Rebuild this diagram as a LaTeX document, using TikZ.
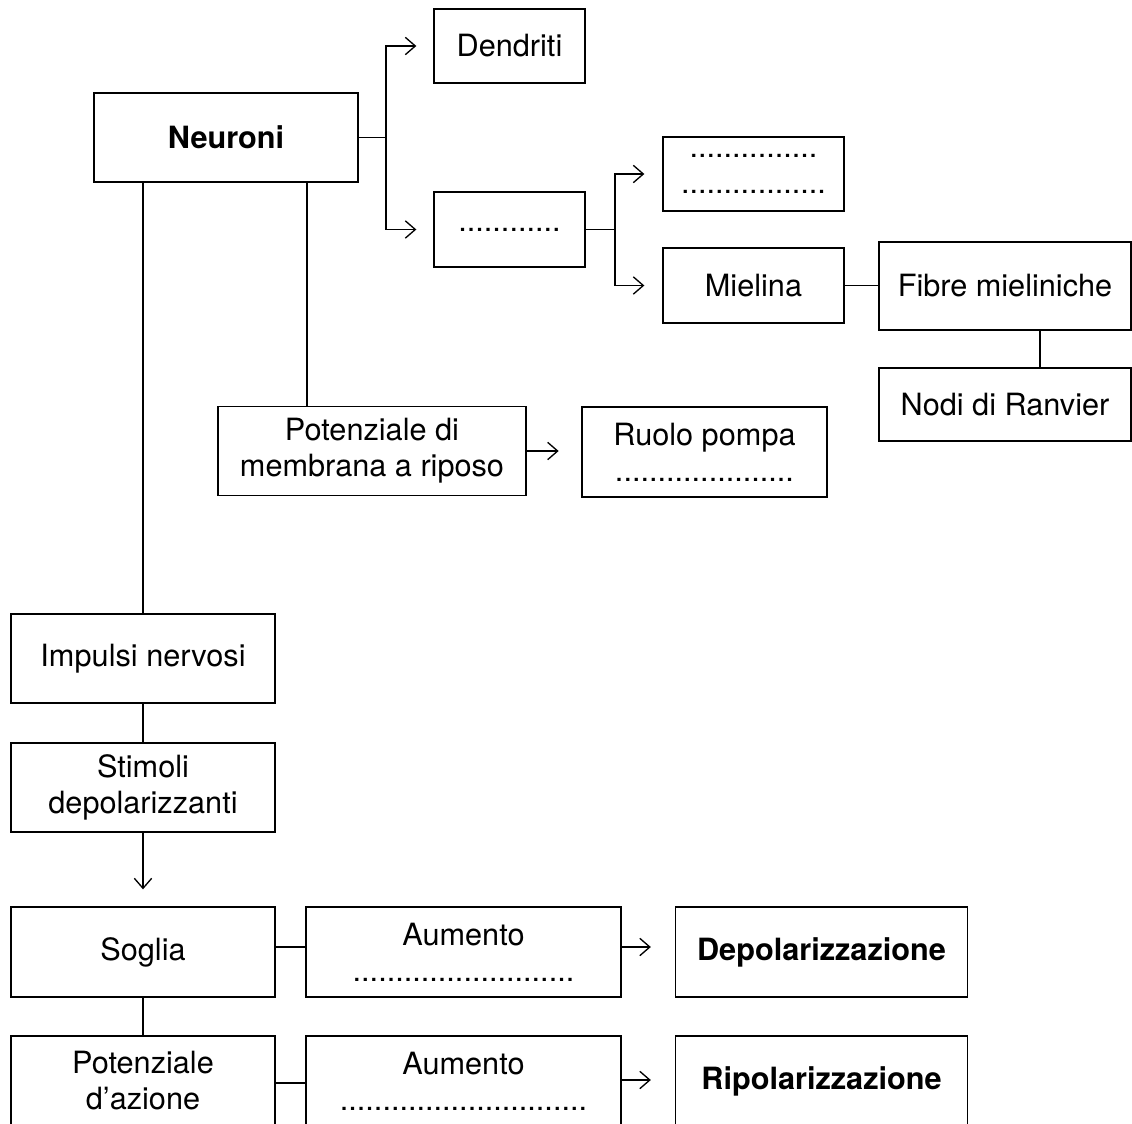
\documentclass[tikz,border=0pt]{standalone}
\usepackage{fontspec}
\setmainfont{TeX Gyre Heros}
\usetikzlibrary{arrows.meta,calc}
\begin{document}
\begin{tikzpicture}[x=0.75pt,y=-0.75pt,
  box/.style={draw, line width=1pt, align=center, inner sep=0pt,
    font=\fontsize{23}{27}\selectfont},
  conn/.style={line width=1pt},
  arr/.style={line width=1pt, -{Straight Barb[length=7.5pt,width=13pt,line width=1pt]}}]
\useasboundingbox (0,0) rectangle (1132,1124);

\node[box, minimum width=198pt, minimum height=66.75pt] (neu) at (226,137.5) {\bfseries Neuroni};
\node[box, minimum width=113.25pt, minimum height=55.5pt] (den) at (509.5,46) {Dendriti};
\node[box, minimum width=113.25pt, minimum height=56.25pt] (ax) at (509.5,229.5) {............};
\node[box, minimum width=135.75pt, minimum height=55.5pt] (tw) at (753.5,174) {...............\\.................};
\node[box, minimum width=135.75pt, minimum height=56.25pt] (miel) at (753.5,285.5) {Mielina};
\node[box, minimum width=189pt, minimum height=66pt] (fib) at (1005,286) {Fibre mieliniche};
\node[box, minimum width=189pt, minimum height=54.75pt] (nodi) at (1005,404.5) {Nodi di Ranvier};
\node[box, minimum width=231pt, minimum height=66.75pt] (pot) at (372,451) {Potenziale di\\membrana a riposo};
\node[box, minimum width=183.75pt, minimum height=67.5pt] (rp) at (704.5,452) {Ruolo pompa\\.....................};
\node[box, minimum width=198pt, minimum height=66.75pt] (imp) at (143,658.5) {Impulsi nervosi};
\node[box, minimum width=198pt, minimum height=66.75pt] (stim) at (143,787.5) {Stimoli\\depolarizzanti};
\node[box, minimum width=198pt, minimum height=67.5pt] (sog) at (143,952) {Soglia};
\node[box, minimum width=236.25pt, minimum height=67.5pt] (aum1) at (463.5,952) {Aumento\\..........................};
\node[box, minimum width=219pt, minimum height=67.5pt] (dep) at (821.5,952) {\bfseries Depolarizzazione};
\node[box, minimum width=198pt, minimum height=67.5pt] (potaz) at (143,1081) {Potenziale\\d’azione};
\node[box, minimum width=236.25pt, minimum height=67.5pt] (aum2) at (463.5,1081) {Aumento\\.............................};
\node[box, minimum width=219pt, minimum height=67.5pt] (rip) at (821.5,1081) {\bfseries Ripolarizzazione};

% Neuroni branches
\coordinate (j1) at (386,137.5);
\draw[conn] (neu.east) -- (j1 |- neu.east);
\draw[arr, shorten >=12.75pt] (j1) |- (den.west);
\draw[arr, shorten >=12.75pt] (j1) |- (ax.west);

\coordinate (j2) at (615,229.5);
\draw[conn] (ax.east) -- (j2);
\draw[arr, shorten >=13.5pt] (j2) |- (tw.west);
\draw[arr, shorten >=13.5pt] (j2) |- (miel.west);

\draw[conn] (miel.east) -- (fib.west |- miel.east);
\coordinate (c1) at (1040,0);
\draw[conn] (fib.south -| c1) -- (nodi.north -| c1);

\draw[conn] (neu.south -| imp.north) -- (imp.north);
\coordinate (c2) at (307,0);
\draw[conn] (neu.south -| c2) -- (pot.north -| c2);
\draw[arr, shorten >=17pt] (pot.east) -- (rp.west |- pot.east);

\draw[conn] (imp.south) -- (stim.north);
\draw[arr, shorten >=12.75pt] (stim.south) -- (sog.north);

\coordinate (r1) at (0,947);
\draw[conn] (sog.east |- r1) -- (aum1.west |- r1);
\draw[arr, shorten >=18pt] (aum1.east |- r1) -- (dep.west |- r1);

\draw[conn] (sog.south) -- (potaz.north);
\coordinate (r2) at (0,1083);
\draw[conn] (potaz.east |- r2) -- (aum2.west |- r2);
\coordinate (r3) at (0,1080);
\draw[arr, shorten >=18pt] (aum2.east |- r3) -- (rip.west |- r3);
\end{tikzpicture}
\end{document}
